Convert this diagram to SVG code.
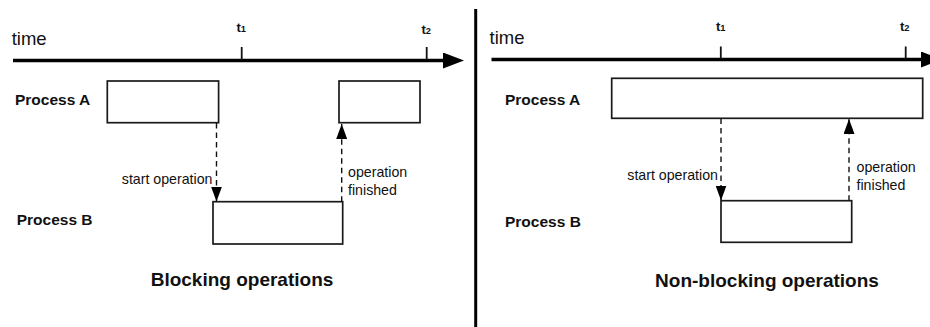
<svg xmlns="http://www.w3.org/2000/svg" width="930" height="327" viewBox="0 0 930 327">
  <style>
    text { font-family: "Liberation Sans", Arial, Helvetica, sans-serif; fill: #111; }
    .time { font-size: 18.5px; }
    .tl { font-size: 13px; font-weight: bold; }
    .sub { font-size: 9.3px; }
    .proc { font-size: 15.5px; font-weight: bold; }
    .lbl { font-size: 14.2px; }
    .title { font-size: 19px; font-weight: bold; }
    .axis { stroke: #000; stroke-width: 3.4; fill: none; }
    .tick { stroke: #111; stroke-width: 1.8; }
    .box { fill: #fff; stroke: #1a1a1a; stroke-width: 1.7; }
    .dash { stroke: #111; stroke-width: 1.4; stroke-dasharray: 5.5 4; fill: none; }
    .divider { stroke: #000; stroke-width: 3; }
  </style>
  <defs>
    <marker id="axisHead" markerUnits="userSpaceOnUse" markerWidth="21" markerHeight="16" viewBox="0 0 21 16" refX="6" refY="8" orient="auto">
      <path d="M0,0 L21,8 L0,16 Z" fill="#000"/>
    </marker>
    <marker id="head" markerUnits="userSpaceOnUse" markerWidth="15" markerHeight="11" viewBox="0 0 15 11" refX="15" refY="5.5" orient="auto">
      <path d="M0,0 L15,5.5 L0,11 Z" fill="#000"/>
    </marker>
  </defs>

  <line class="divider" x1="475.7" y1="9" x2="475.7" y2="327"/>

  <g id="left-timeline">
    <text class="time" x="11.7" y="45">time</text>
    <line class="axis" x1="13" y1="60.5" x2="449" y2="60.5" marker-end="url(#axisHead)"/>
    <line class="tick" x1="241.7" y1="47" x2="241.7" y2="60"/>
    <line class="tick" x1="426.7" y1="47" x2="426.7" y2="60"/>
    <text class="tl" x="236.5" y="31.5">t<tspan class="sub">1</tspan></text>
    <text class="tl" x="421.5" y="34">t<tspan class="sub">2</tspan></text>
  </g>

  <g id="left-labels">
    <text class="proc" x="15" y="105">Process A</text>
    <text class="proc" x="16.7" y="225">Process B</text>
    <text class="title" x="242" y="286" text-anchor="middle">Blocking operations</text>
  </g>

  <g id="left-procA-1"><rect class="box" x="107.3" y="81" width="111.3" height="41.7"/></g>
  <g id="left-procA-2"><rect class="box" x="339" y="81" width="81" height="41.7"/></g>
  <g id="left-procB"><rect class="box" x="213" y="201.7" width="129.7" height="42.3"/></g>

  <g id="right-timeline">
    <text class="time" x="489.5" y="44">time</text>
    <line class="axis" x1="491.5" y1="59.5" x2="927" y2="59.5" marker-end="url(#axisHead)"/>
    <line class="tick" x1="720.8" y1="46.5" x2="720.8" y2="59"/>
    <line class="tick" x1="905.7" y1="46.5" x2="905.7" y2="59"/>
    <text class="tl" x="716" y="30.5">t<tspan class="sub">1</tspan></text>
    <text class="tl" x="900" y="30.5">t<tspan class="sub">2</tspan></text>
  </g>

  <g id="right-labels">
    <text class="proc" x="505" y="105">Process A</text>
    <text class="proc" x="505" y="226.5">Process B</text>
    <text class="title" x="767" y="286.5" text-anchor="middle">Non-blocking operations</text>
  </g>

  <g id="right-procA"><rect class="box" x="611.7" y="78.3" width="311" height="40"/></g>
  <g id="right-procB"><rect class="box" x="721" y="200.7" width="130.7" height="41.6"/></g>

  <g id="connectors">
    <line class="dash" x1="216.5" y1="123" x2="216.5" y2="201.5" marker-end="url(#head)"/>
    <text class="lbl" x="212.5" y="184" text-anchor="end">start operation</text>
    <line class="dash" x1="341.7" y1="201.7" x2="341.7" y2="124" marker-end="url(#head)"/>
    <text class="lbl" x="348" y="176.5">operation</text>
    <text class="lbl" x="348" y="194.5">finished</text>

    <line class="dash" x1="721" y1="118.5" x2="721" y2="200.5" marker-end="url(#head)"/>
    <text class="lbl" x="718" y="180" text-anchor="end">start operation</text>
    <line class="dash" x1="849" y1="200.7" x2="849" y2="119" marker-end="url(#head)"/>
    <text class="lbl" x="856.5" y="172">operation</text>
    <text class="lbl" x="856.5" y="190">finished</text>
  </g>
</svg>
